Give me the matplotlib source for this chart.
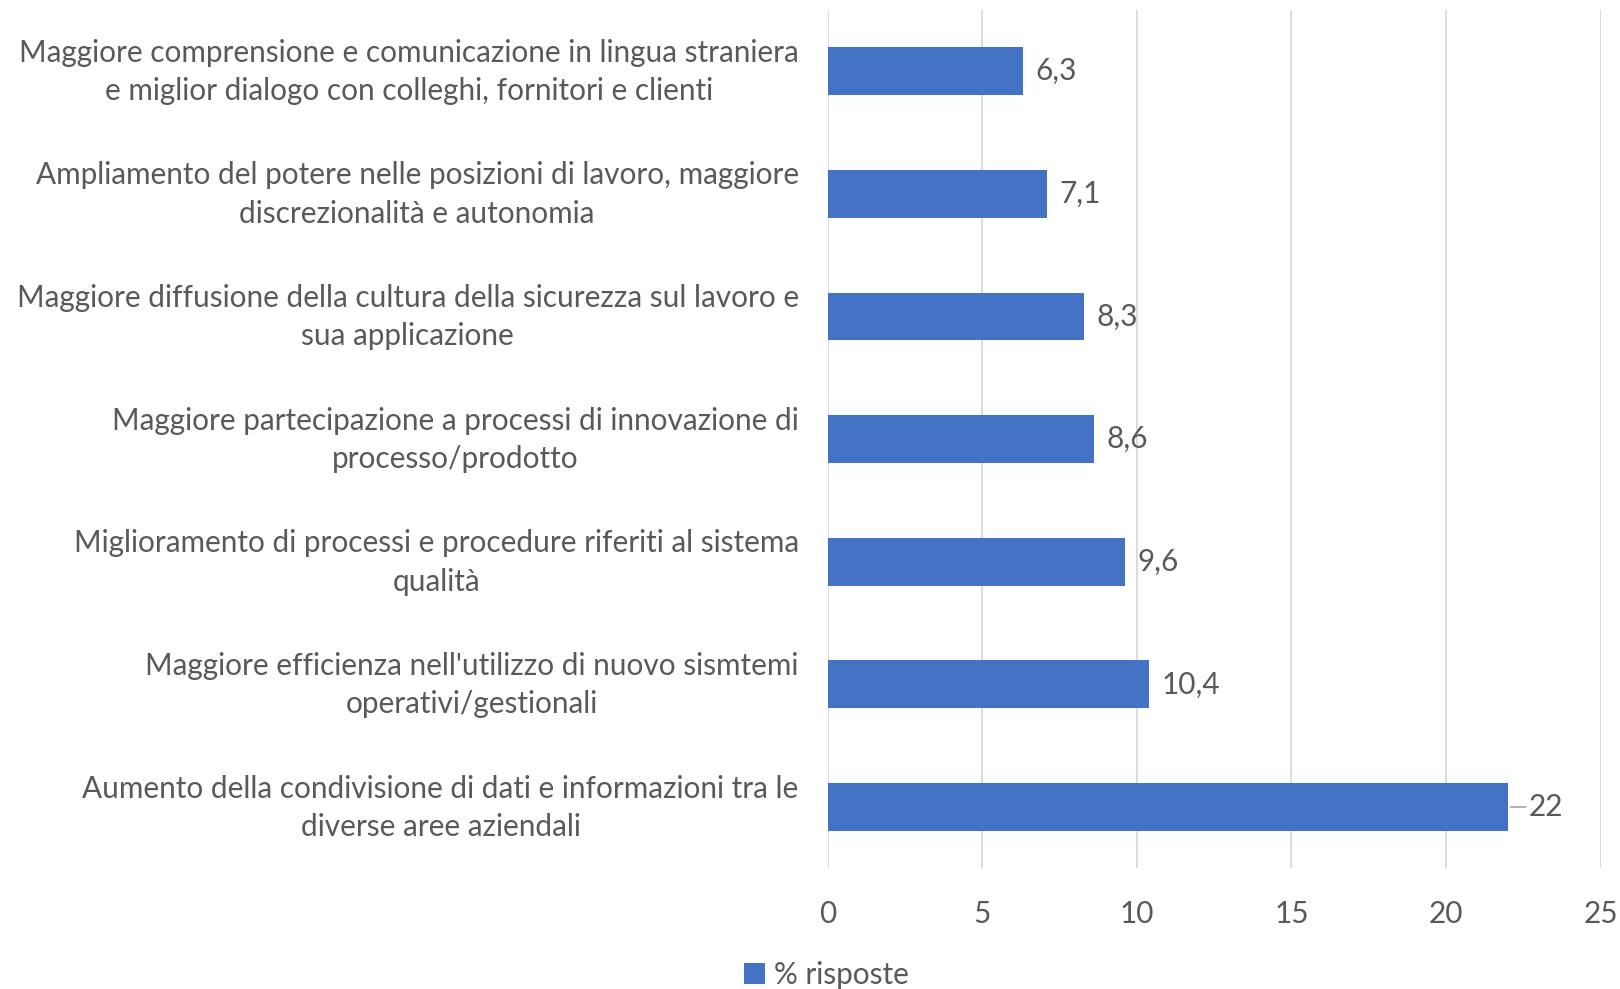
import matplotlib
matplotlib.use("Agg")
import matplotlib.pyplot as plt
from matplotlib.transforms import ScaledTranslation

categories = [
    "Maggiore comprensione e comunicazione in lingua straniera\ne miglior dialogo con colleghi, fornitori e clienti",
    "Ampliamento del potere nelle posizioni di lavoro, maggiore\ndiscrezionalità e autonomia",
    "Maggiore diffusione della cultura della sicurezza sul lavoro e\nsua applicazione",
    "Maggiore partecipazione a processi di innovazione di\nprocesso/prodotto",
    "Miglioramento di processi e procedure riferiti al sistema\nqualità",
    "Maggiore efficienza nell'utilizzo di nuovo sismtemi\noperativi/gestionali",
    "Aumento della condivisione di dati e informazioni tra le\ndiverse aree aziendali",
]
values = [6.3, 7.1, 8.3, 8.6, 9.6, 10.4, 22]
series_name = "% risposte"
xticks = [0, 5, 10, 15, 20, 25]

plt.rcParams['font.family'] = ['Lato', 'DejaVu Sans']
TEXT = '#595959'
BAR = '#4472C4'
GRID = '#D9D9D9'
FS = 21.4

fig = plt.figure(figsize=(16.2, 9.89), dpi=100)
ax = fig.add_axes([0.511, 0.122, 0.477, 0.868])

ypos = list(range(len(categories)))
bars = ax.barh(ypos, values, height=0.39, color=BAR, label=series_name, zorder=3)
ax.set_ylim(len(categories) - 0.5, -0.5)
ax.set_xlim(0, 25)
ax.set_xticks(xticks)
ax.set_xticklabels([str(t) for t in xticks])
ax.set_yticks(ypos)
ax.set_yticklabels(categories, multialignment='center', linespacing=1.45)
ax.tick_params(axis='both', length=0, labelsize=FS, colors=TEXT)
ax.tick_params(axis='y', pad=21)
ax.tick_params(axis='x', pad=23)
ax.grid(axis='x', color=GRID, linewidth=1.3, zorder=0)
for s in ax.spines.values():
    s.set_visible(False)

shift = ScaledTranslation(0, 7 / 100, fig.dpi_scale_trans)
for lbl in ax.get_yticklabels():
    lbl.set_transform(lbl.get_transform() + shift)

for i, v in enumerate(values):
    lab = f"{v:g}".replace('.', ',')
    if v == max(values):
        ax.annotate(lab, xy=(v, i), xytext=(15, 0), textcoords='offset points',
                    va='center', ha='left', fontsize=FS, color=TEXT,
                    arrowprops=dict(arrowstyle='-', color='#A6A6A6', lw=1.2,
                                    shrinkA=0, shrinkB=2))
    else:
        ax.annotate(lab, xy=(v, i), xytext=(9, 0), textcoords='offset points',
                    va='center', ha='left', fontsize=FS, color=TEXT)

leg = fig.legend(handles=[bars], labels=[series_name], loc='center',
                 bbox_to_anchor=(0.51, 0.014), frameon=False, fontsize=FS,
                 handlelength=0.7, handleheight=0.7, handletextpad=0.3)
for t in leg.get_texts():
    t.set_color(TEXT)

fig.savefig("out.png", dpi=100)
